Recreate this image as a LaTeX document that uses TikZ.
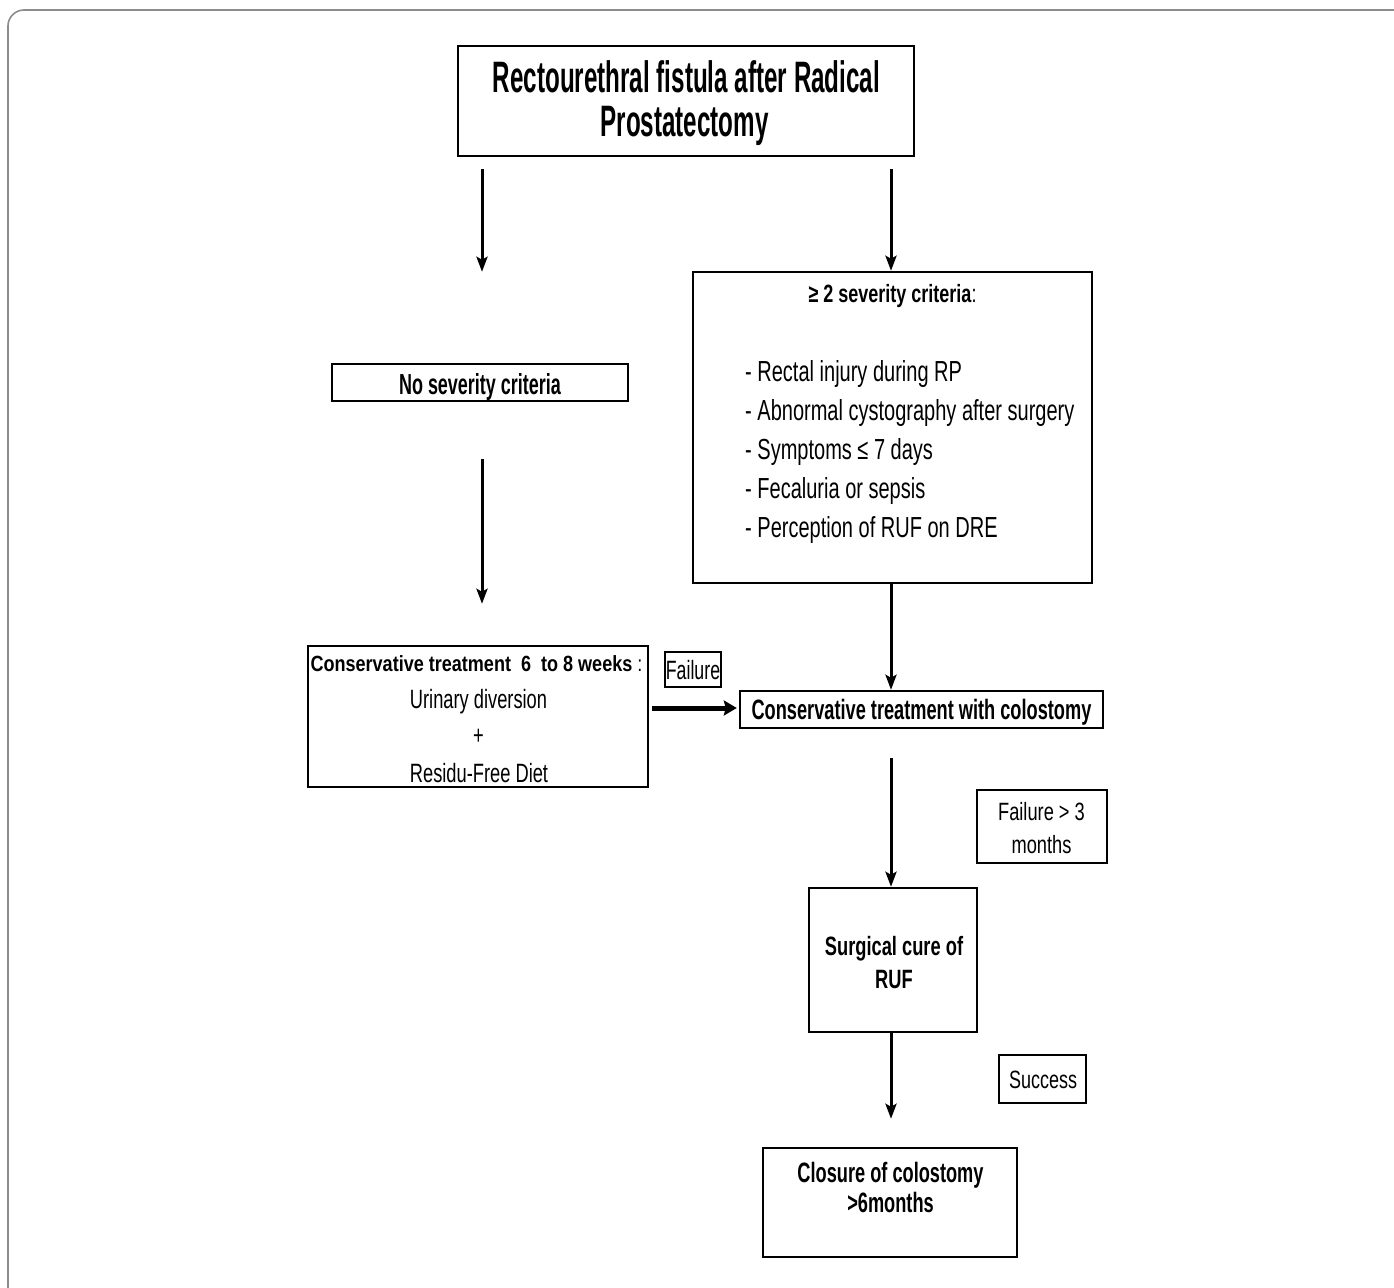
\documentclass[tikz,border=0pt]{standalone}
\usepackage{fontspec}
\setmainfont{Liberation Sans}
\usepackage{graphicx}
\usetikzlibrary{arrows.meta}
\newcommand{\sctext}[3]{\scalebox{#1}[1]{\fontsize{#2pt}{#2pt}\selectfont #3}}
\begin{document}
\begin{tikzpicture}[x=1pt,y=-1pt,
  box/.style={draw, line width=2.4pt, inner sep=0pt},
  thinbox/.style={draw, line width=1.8pt, inner sep=0pt},
  txt/.style={inner sep=0pt, anchor=base},
  ltxt/.style={inner sep=0pt, anchor=base west},
  arr/.style={line width=3pt, -{Stealth[length=15pt,width=11pt,inset=3pt]}},
  thickarr/.style={line width=5pt, -{Stealth[length=13pt,width=15pt,inset=2pt]}}]
\useasboundingbox (0,0) rectangle (1394,1287);
\fill[white] (0,0) rectangle (1394,1287);
% outer frame
\draw[line width=1.6pt, color={rgb,255:red,140;green,140;blue,140}, rounded corners=16pt]
  (1396,10) -- (8,10) -- (8,1292);

% boxes
\node[box, minimum width=456pt, minimum height=110pt] (title) at (686,101) {};
\node[box, minimum width=399pt, minimum height=311pt] (sev) at (892.5,427.5) {};
\node[box, minimum width=296pt, minimum height=37pt] (nosev) at (480,382.5) {};
\node[box, minimum width=340pt, minimum height=141pt] (left) at (478,716.5) {};
\node[thinbox, minimum width=56pt, minimum height=35pt] (fail) at (693,669.5) {};
\node[box, minimum width=363pt, minimum height=37pt] (colo) at (921.5,709.5) {};
\node[box, minimum width=130pt, minimum height=73pt] (fail3) at (1042,826.5) {};
\node[box, minimum width=168pt, minimum height=144pt] (surg) at (893,960) {};
\node[box, minimum width=87pt, minimum height=48pt] (succ) at (1042.5,1079) {};
\node[box, minimum width=254pt, minimum height=109pt] (clos) at (890,1202.5) {};

% texts
\node[txt] (title1) at (686.5,93) {\sctext{0.55}{44}{\bfseries Rectourethral fistula after Radical}};
\node[txt] (title2) at (684.5,136) {\sctext{0.55}{44}{\bfseries Prostatectomy}};

\node[txt] (sevh) at (892.5,302) {\sctext{0.72}{25}{\bfseries ≥ 2 severity criteria\mdseries :}};
\node[ltxt] (sev1) at (745,381) {\sctext{0.69}{29}{- Rectal injury during RP}};
\node[ltxt] (sev2) at (745,420) {\sctext{0.69}{29}{- Abnormal cystography after surgery}};
\node[ltxt] (sev3) at (745,459) {\sctext{0.69}{29}{- Symptoms ≤ 7 days}};
\node[ltxt] (sev4) at (745,498) {\sctext{0.69}{29}{- Fecaluria or sepsis}};
\node[ltxt] (sev5) at (745,537) {\sctext{0.69}{29}{- Perception of RUF on DRE}};

\node[txt] (nosevt) at (480,394) {\sctext{0.62}{29}{\bfseries No severity criteria}};

\node[txt] (left1) at (476.5,671) {\sctext{0.82}{22}{\bfseries Conservative treatment\ \ 6\ \ to 8 weeks\mdseries\ :}};
\node[txt] (left2) at (478.5,708) {\sctext{0.69}{26.5}{Urinary diversion}};
\node[txt] (left3) at (478.5,744) {\sctext{0.69}{26.5}{+}};
\node[txt] (left4) at (479,782) {\sctext{0.69}{26.5}{Residu-Free Diet}};

\node[txt] (failt) at (693,679) {\sctext{0.67}{26.5}{Failure}};
\node[txt] (colot) at (921.5,719) {\sctext{0.65}{28}{\bfseries Conservative treatment with colostomy}};

\node[txt] (fail3a) at (1041.5,820) {\sctext{0.73}{25}{Failure > 3}};
\node[txt] (fail3b) at (1041.5,853) {\sctext{0.73}{25}{months}};

\node[txt] (surga) at (894,955) {\sctext{0.69}{26.5}{\bfseries Surgical cure of}};
\node[txt] (surgb) at (894,988) {\sctext{0.69}{26.5}{\bfseries RUF}};

\node[txt] (succt) at (1043,1088) {\sctext{0.72}{25}{Success}};

\node[txt] (closa) at (890.5,1182) {\sctext{0.65}{28}{\bfseries Closure of colostomy}};
\node[txt] (closb) at (890.5,1212) {\sctext{0.65}{28}{\bfseries >6months}};

% connectors
\draw[arr, shorten <=12pt, shorten >=91pt] ([xshift=2pt]title.south -| nosev.north) -- ([xshift=2pt]nosev.north);
\draw[arr, shorten <=12pt] ([xshift=-1.5pt]title.south -| sev.north) -- ([xshift=-1.5pt]sev.north);
\draw[arr, shorten <=57pt, shorten >=41pt] ([xshift=2pt]nosev.south) -- ([xshift=2pt]nosev.south |- left.north);
\draw[arr] ([xshift=-1.5pt]sev.south) -- ([xshift=-1.5pt]sev.south |- colo.north);
\draw[thickarr, shorten <=3pt, shorten >=2pt] ([yshift=1.5pt]left.east |- colo.west) -- ([yshift=1.5pt]colo.west);
\draw[arr, shorten <=29pt] ([xshift=-2pt]colo.south -| surg.north) -- ([xshift=-2pt]surg.north);
\draw[arr, shorten >=28pt] ([xshift=-2pt]surg.south) -- ([xshift=-2pt]surg.south |- clos.north);
\end{tikzpicture}
\end{document}
